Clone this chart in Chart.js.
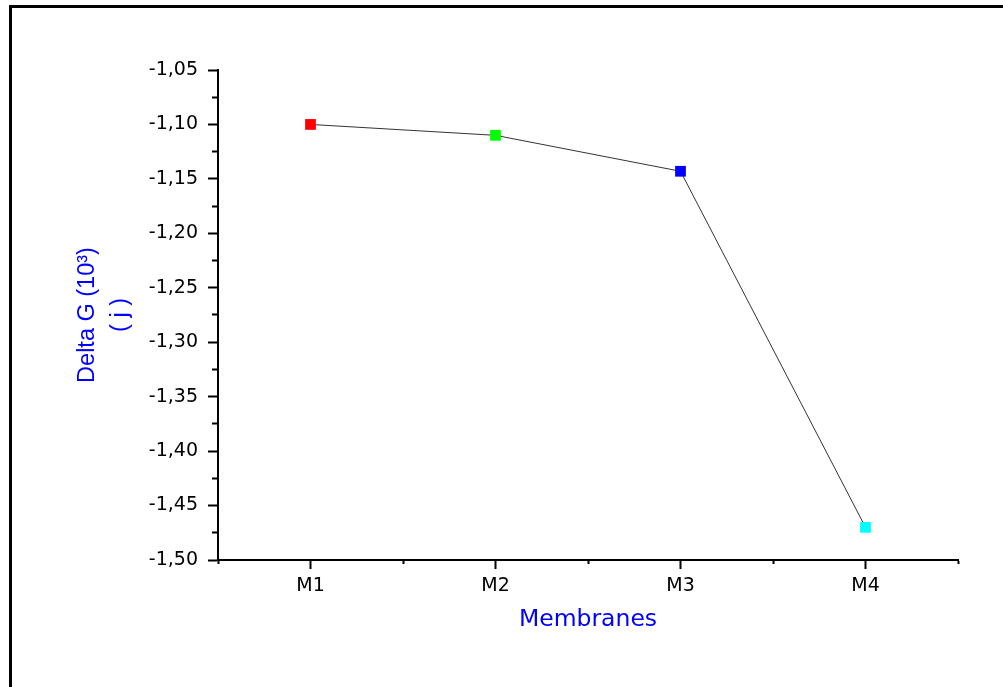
<!DOCTYPE html>
<html>
<head>
<meta charset="utf-8">
<title>Delta G - Membranes</title>
<script src="https://cdn.jsdelivr.net/npm/chart.js@4/dist/chart.umd.min.js"></script>
<style>
  html, body { margin: 0; padding: 0; background: #fff; }
  #wrap { position: relative; width: 1003px; height: 687px; overflow: hidden; }
  /* frame line along the top and left edge */
  #frame {
    position: absolute; left: 9px; top: 5px; width: 1100px; height: 800px;
    border-top: 3px solid #000; border-left: 3px solid #000;
  }
  #chart { position: absolute; left: 0; top: 0; }
</style>
</head>
<body>
<div id="wrap">
  <div id="frame"></div>
  <canvas id="chart" width="1003" height="687"></canvas>
</div>
<script>
// membranes on the x axis
const membranes = ['M1', 'M2', 'M3', 'M4'];
// Delta G (10^3 j) per membrane
const deltaG = [-1.10, -1.11, -1.143, -1.47];
const markerColors = ['#ff0000', '#00ff00', '#0000ff', '#00ffff'];
// labelled y ticks
const yMajorTicks = [-1.05, -1.10, -1.15, -1.20, -1.25, -1.30, -1.35, -1.40, -1.45, -1.50];

const tickFont = { family: 'DejaVu Sans', size: 19 };

const isMajorX = v => Math.abs(v - Math.round(v)) < 1e-6;
const isMajorY = v => yMajorTicks.some(t => Math.abs(t - v) < 1e-6);

const ctx = document.getElementById('chart');

new Chart(ctx, {
  type: 'line',
  data: {
    datasets: [{
      data: deltaG.map((v, i) => ({ x: i + 1, y: v })),
      borderColor: '#333333',
      borderWidth: 1,
      tension: 0,
      fill: false,
      pointStyle: 'rect',
      pointRadius: 7.6,
      pointHoverRadius: 7.6,
      pointBorderWidth: 0,
      pointBackgroundColor: markerColors
    }]
  },
  options: {
    responsive: false,
    animation: false,
    events: [],
    layout: { padding: { left: 12, top: 70, right: 45, bottom: 47 } },
    plugins: {
      legend: { display: false },
      tooltip: { enabled: false }
    },
    scales: {
      x: {
        type: 'linear',
        min: 0.5,
        max: membranes.length + 0.5,
        afterBuildTicks: scale => {
          const ticks = [];
          for (let i = 0; i <= membranes.length; i++) {
            ticks.push({ value: i + 0.5 });
            if (i < membranes.length) ticks.push({ value: i + 1 });
          }
          ticks.sort((a, b) => a.value - b.value);
          scale.ticks = ticks;
        },
        afterFit: scale => { scale.height = 80; },
        border: { display: true, color: '#000', width: 2 },
        grid: {
          drawOnChartArea: false,
          tickLength: 9,
          tickWidth: 2,
          tickColor: '#000',
          // short minor ticks between the membranes
          tickBorderDash: c => (c.tick && isMajorX(c.tick.value)) ? [] : [3, 100]
        },
        ticks: {
          autoSkip: false,
          maxRotation: 0,
          padding: 6,
          color: '#000',
          font: tickFont,
          callback: v => isMajorX(v) ? membranes[Math.round(v) - 1] : ''
        },
        title: {
          display: true,
          text: 'Membranes',
          color: '#0000ff',
          font: { family: 'DejaVu Sans', size: 23.5, lineHeight: 1.2 },
          padding: { top: 0, bottom: 6 }
        }
      },
      y: {
        type: 'linear',
        min: -1.50,
        max: -1.05,
        afterBuildTicks: scale => {
          const ticks = [];
          yMajorTicks.forEach((t, i) => {
            ticks.push({ value: t });
            if (i < yMajorTicks.length - 1) ticks.push({ value: (t + yMajorTicks[i + 1]) / 2 });
          });
          ticks.sort((a, b) => a.value - b.value);
          scale.ticks = ticks;
        },
        afterFit: scale => { scale.width = 206; },
        border: { display: true, color: '#000', width: 2 },
        grid: {
          drawOnChartArea: false,
          tickLength: 10,
          tickWidth: 2,
          tickColor: '#000',
          // minor ticks only touch the axis line
          tickBorderDash: c => (c.tick && isMajorY(c.tick.value)) ? [] : [0, 4, 5, 100]
        },
        ticks: {
          autoSkip: false,
          padding: 10,
          color: '#000',
          font: tickFont,
          callback: v => isMajorY(v) ? v.toFixed(2).replace('.', ',') : ''
        },
        title: {
          display: true,
          text: ['Delta G (10³)', '( j )'],
          color: '#0000ff',
          font: { family: 'Liberation Sans', size: 23.5, lineHeight: 1.4 },
          padding: { top: 59, bottom: 0 }
        }
      }
    }
  }
});
</script>
</body>
</html>
